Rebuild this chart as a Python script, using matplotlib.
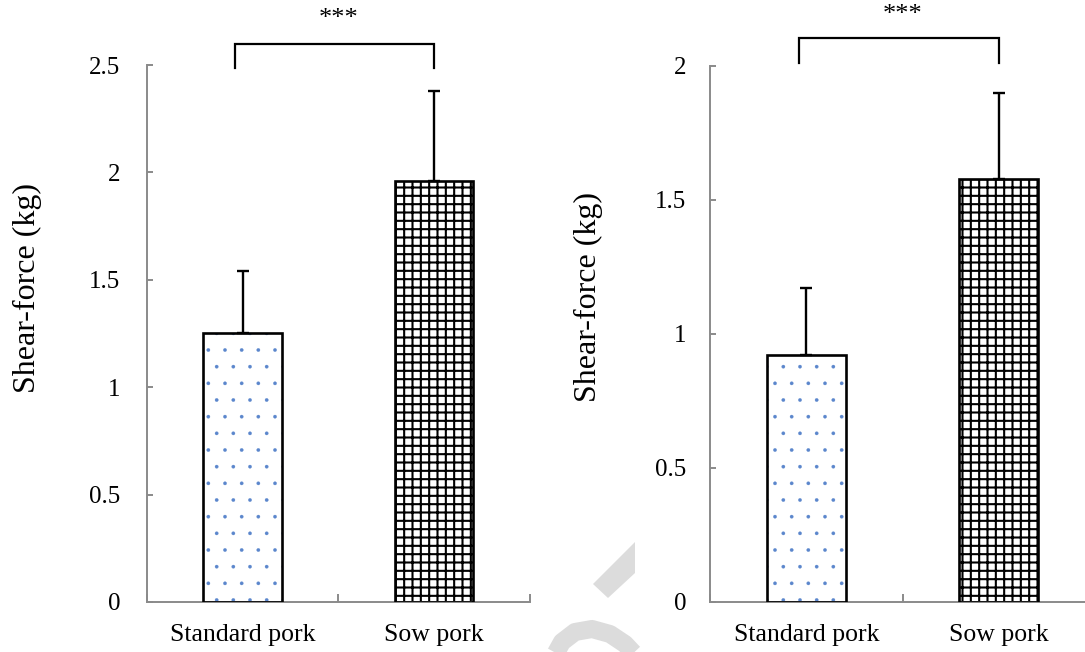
import numpy as np
import matplotlib
matplotlib.use("Agg")
import matplotlib.pyplot as plt
from matplotlib.patches import Polygon
from matplotlib.lines import Line2D

# ---- data -------------------------------------------------------------
categories = ["Standard pork", "Sow pork"]

shear_a = [1.25, 1.96]      # panel A means (kg)
sd_a = [0.29, 0.42]         # panel A standard deviations
yticks_a = [0, 0.5, 1, 1.5, 2, 2.5]
ytick_labels_a = ["0", "0.5", "1", "1.5", "2", "2.5"]

shear_b = [0.92, 1.58]      # panel B means (kg)
sd_b = [0.25, 0.32]         # panel B standard deviations
yticks_b = [0, 0.5, 1, 1.5, 2]
ytick_labels_b = ["0", "0.5", "1", "1.5", "2"]

significance = "***"
ylabel = "Shear-force (kg)"

# ---- style ------------------------------------------------------------
plt.rcParams["font.family"] = ["Liberation Serif", "DejaVu Serif"]
plt.rcParams["hatch.linewidth"] = 1.4
AXIS_GREY = "#8a8a8a"
DOT_BLUE = "#5b86cc"
TICK_FONT = 18
XLABEL_FONT = 18.5
YLABEL_FONT = 23
STAR_FONT = 19

fig = plt.figure(figsize=(10.85, 6.52), dpi=100)


def panel(rect, means, sds, yticks, ylabels, ymax, label_y, label_x,
          tick_pad, bracket_y, star_y):
    ax = fig.add_axes(rect)
    x = np.arange(len(categories))
    width = 0.41

    # hatched fills, then black outlines on top
    dots = ax.bar(x[0], means[0], width, color="white", edgecolor=DOT_BLUE,
                  hatch=".", linewidth=0, zorder=2)
    grid = ax.bar(x[1], means[1], width, color="white", edgecolor="black",
                  hatch="++", linewidth=0, zorder=2)
    for p in dots.patches:
        if hasattr(p, "set_hatch_linewidth"):
            p.set_hatch_linewidth(0.2)
    for p in grid.patches:
        if hasattr(p, "set_hatch_linewidth"):
            p.set_hatch_linewidth(1.5)
    ax.bar(x, means, width, fill=False, edgecolor="black", linewidth=1.9,
           zorder=3)

    ax.errorbar(x, means, yerr=[np.zeros(len(sds)), sds], fmt="none",
                ecolor="black", elinewidth=1.7, capsize=4, capthick=1.7,
                zorder=4)

    ax.set_xlim(-0.5, 1.5)
    ax.set_ylim(0, ymax)

    for side in ("top", "right"):
        ax.spines[side].set_visible(False)
    for side in ("left", "bottom"):
        ax.spines[side].set_color(AXIS_GREY)
        ax.spines[side].set_linewidth(1.4)

    ax.set_yticks(yticks)
    ax.set_yticklabels(ylabels)
    ax.tick_params(axis="y", direction="in", length=4.5, width=1.4,
                   color=AXIS_GREY, pad=tick_pad, labelsize=TICK_FONT)

    ax.set_xticks(x)
    ax.set_xticklabels(categories)
    ax.set_xticks([-0.5, 0.5, 1.5], minor=True)
    ax.tick_params(axis="x", which="major", length=0, pad=16,
                   labelsize=XLABEL_FONT)
    ax.tick_params(axis="x", which="minor", direction="in", length=6,
                   width=1.4, color=AXIS_GREY)

    ax.set_ylabel(ylabel, fontsize=YLABEL_FONT)
    ax.yaxis.set_label_coords(label_x, label_y)

    # significance bracket between the two groups
    lo, hi = bracket_y
    ax.plot([-0.04, -0.04, 1.0, 1.0], [lo, hi, hi, lo], color="black",
            lw=1.6, clip_on=False, solid_joinstyle="miter", zorder=5)
    ax.text(0.5, star_y, significance, ha="center", va="center",
            fontsize=STAR_FONT, clip_on=False)
    return ax


panel([0.1352, 0.0767, 0.3533, 0.8236], shear_a, sd_a, yticks_a,
      ytick_labels_a, 2.5, 0.584, -0.272, 19, (2.486, 2.60), 2.715)
panel([0.6544, 0.0767, 0.3548, 0.8221], shear_b, sd_b, yticks_b,
      ytick_labels_b, 2.0, 0.569, -0.278, 17, (2.011, 2.104), 2.19)

# faint watermark strokes near the bottom centre
W, H = 1085, 652
wm = "#dcdcdc"
poly = [(593, 584), (635, 542), (635, 573), (608, 598)]
fig.patches.append(Polygon([(px / W, 1 - py / H) for px, py in poly],
                           closed=True, transform=fig.transFigure,
                           facecolor=wm, edgecolor="none", zorder=0))
arc = [(552, 660), (562, 642), (575, 632), (592, 629), (610, 634),
       (625, 644), (640, 660)]
fig.lines.append(Line2D([px / W for px, _ in arc], [1 - py / H for _, py in arc],
                        transform=fig.transFigure, color=wm, lw=13,
                        solid_capstyle="butt", zorder=0))

fig.savefig("out.png", dpi=100)
